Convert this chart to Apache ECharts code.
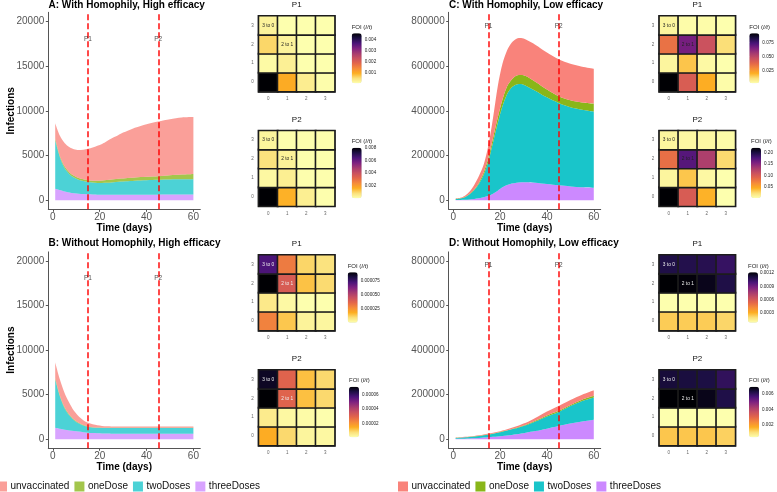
<!DOCTYPE html>
<html><head><meta charset="utf-8">
<style>html,body{margin:0;padding:0;background:#fff}#c{width:777px;height:492px}</style>
<script src="https://cdn.jsdelivr.net/npm/echarts@6/dist/echarts.min.js"></script>
</head><body><div id="c"></div>
<script>
const days = [1,3,5,7,9,11,13,15,17,19,21,23,25,27,29,31,35,40,45,50,55,60];
const layerNames = ['threeDoses','twoDoses','oneDose','unvaccinated'];
const legendOrder = ['unvaccinated','oneDose','twoDoses','threeDoses'];

const aThree = [1300,1150,1000,880,800,740,700,670,650,630,620,620,620,620,620,620,620,625,630,640,645,650];
const aTwo = [5400,3650,2600,2070,1750,1560,1450,1380,1330,1320,1330,1350,1380,1430,1480,1510,1580,1625,1670,1690,1705,1700];
const aOne = [200,150,200,200,200,200,200,200,220,250,270,310,330,330,330,350,360,390,400,470,530,600];
const aUnvac = [1700,2250,2600,2800,2950,3120,3300,3500,3700,3900,4080,4320,4570,4770,5020,5170,5540,5860,6100,6250,6370,6350];

const bThree = [1300,1180,1080,1000,930,870,800,740,700,680,660,650,640,630,625,620,620,620,620,620,620,620];
const bTwo = [5400,3620,2420,1700,1220,930,750,660,620,610,610,610,620,630,635,640,640,640,640,645,645,650];
const bOne = [150,120,100,90,80,70,60,50,40,30,30,30,30,30,30,30,30,30,30,30,30,30];
const bUnvac = [1750,1780,1600,1310,970,730,540,400,320,250,200,180,160,150,140,140,140,140,150,150,160,150];

const cThree = [1000,1500,2500,4000,6000,9000,14000,20000,30000,43000,58000,68000,75000,79000,81000,81000,79000,73000,67000,62000,58000,56000];
const cTwo = [4000,6500,11500,23000,40000,65000,101000,155000,230000,302000,362000,407000,430000,439000,439000,431000,411000,387000,368000,354000,347000,341000];
const cOne = [1000,1000,2000,3000,4000,6000,10000,15000,20000,25000,30000,35000,35000,40000,40000,43000,40000,35000,30000,31000,32000,35000];
const cUnvac = [2000,3000,5000,10000,20000,30000,35000,55000,90000,140000,160000,160000,165000,164000,165000,163000,165000,165000,165000,163000,160000,156000];

const dThree = [2000,2500,3200,4000,5000,6200,8000,10000,11500,13000,15500,17500,20000,23000,26500,30000,37000,48000,60000,71000,80000,88000];
const dTwo = [4000,5000,6000,7000,8000,9000,10500,12000,14000,16500,19000,22000,25000,27000,30500,33000,43000,55000,63000,78000,92000,100000];
const dOne = [500,500,500,500,600,700,800,1000,1200,1300,1400,1500,1700,2000,2200,2500,3000,4000,5000,5500,6000,7000];
const dUnvac = [1500,1600,1700,1800,2000,2200,2500,3000,3300,3700,4100,4700,5400,6300,7800,9000,13000,18000,22000,22000,22000,25000];

// heatmap cells, rows listed for y = 0,1,2,3; columns x = 0,1,2,3
const heatAP1 = [[0.0046,0.00100,0.00032,0.00009],[0.00014,0.00028,0.00005,0.00005],[0.0006,0.00023,0.00005,0.00005],[0.00023,0.00005,0.00005,0.00005]];
const heatAP2 = [[0.0080,0.00160,0.00048,0.00008],[0.00024,0.00048,0.00008,0.00008],[0.0008,0.0004,0.00008,0.00008],[0.00032,0.00008,0.00008,0.00008]];
const heatBP1 = [[0.0000297,0.0000144,0.0000045,0.0000036],[0.0000072,0.0000027,0.0000009,0.0000009],[0.00009,0.0000405,0.0000153,0.0000108],[0.000072,0.0000315,0.0000117,0.000009]];
const heatBP2 = [[0.0000149,0.0000085,0.0000028,0.0000021],[0.000005,0.0000021,0.0000014,0.0000007],[0.000071,0.0000298,0.0000121,0.0000085],[0.0000675,0.0000298,0.0000121,0.0000085]];
const heatCP1 = [[0.091,0.041,0.02,0.0027],[0.0046,0.0155,0.0036,0.0009],[0.0346,0.0655,0.0455,0.0109],[0.0046,0.0027,0.0027,0.0018]];
const heatCP2 = [[0.222,0.1,0.0444,0.0022],[0.0089,0.0355,0.0067,0.0022],[0.0844,0.173,0.129,0.0266],[0.0089,0.0067,0.0067,0.0044]];
const heatDP1 = [[0.000232,0.000232,0.000232,0.000207],[0.000037,0.000037,0.000037,0.000037],[0.00122,0.00121,0.00118,0.0011],[0.0011,0.00109,0.00108,0.00104]];
const heatDP2 = [[0.00139,0.00139,0.00139,0.00125],[0.00028,0.00021,0.00021,0.00021],[0.00694,0.00694,0.00673,0.00625],[0.0064,0.00635,0.0063,0.0060]];

const cellLabelA = '3 to 0';
const cellLabelB = '2 to 1';
const cellTicks = ['0','1','2','3'];
const xTicks = [0,20,40,60];
const lowTicks = [0,5000,10000,15000,20000];
const highTicks = [0,200000,400000,600000,800000];
const inferno = ['#FDFFAE','#FBE07A','#FDAE22','#F58A3A','#E3664A','#C85060','#A53A70','#7D2080','#4A1478','#1D0F45','#000004'];
const baseColors = {unvaccinated:[248,118,109],oneDose:[124,174,0],twoDoses:[0,191,196],threeDoses:[199,124,255]};
const FONT = '"Liberation Sans"';

const option = {animation:false,backgroundColor:'#fff',textStyle:{fontFamily:FONT},
  title:[],grid:[],xAxis:[],yAxis:[],series:[],visualMap:[],legend:[]};
const rgba=(n,a)=>`rgba(${baseColors[n].join(',')},${a})`;

function addTitle(text,left,top,size,weight,align,color){
  option.title.push({text,left,top,padding:0,textAlign:align||'left',
    textStyle:{fontFamily:FONT,fontSize:size,fontWeight:weight||'normal',color:color||'#000',
      rich:{i:{fontStyle:'italic',fontFamily:FONT,fontSize:size,color:color||'#000'}}}});
}

function addArea(p){
  const gi=option.grid.length;
  option.grid.push({left:p.left,width:152,top:p.top,height:p.height,containLabel:false});
  option.xAxis.push({type:'value',gridIndex:gi,min:-1.95,max:62.95,
    name:'Time (days)',nameLocation:'middle',nameGap:14,nameMoveOverlap:false,
    nameTextStyle:{fontFamily:FONT,fontSize:10,fontWeight:'bold',color:'#000'},
    splitLine:{show:false},axisLine:{onZero:false,lineStyle:{color:'#555',width:1}},
    axisTick:{length:2.5,lineStyle:{color:'#555'},customValues:xTicks},
    axisLabel:{fontFamily:FONT,fontSize:10,color:'#555',margin:3,customValues:xTicks,hideOverlap:false,formatter:v=>String(v)}});
  option.yAxis.push({type:'value',gridIndex:gi,min:p.ymin,max:p.ymax,
    name:p.ylab?'Infections':'',nameLocation:'middle',nameGap:32,nameMoveOverlap:false,
    nameTextStyle:{fontFamily:FONT,fontSize:10,fontWeight:'bold',color:'#000'},
    splitLine:{show:false},axisLine:{show:true,onZero:false,lineStyle:{color:'#555',width:1}},
    axisTick:{show:true,length:2.5,lineStyle:{color:'#555'},customValues:p.ticks},
    axisLabel:{fontFamily:FONT,fontSize:10,color:'#555',margin:4,customValues:p.ticks,hideOverlap:false,formatter:v=>String(v)}});
  layerNames.forEach((n,k)=>{
    const s={type:'line',name:n,xAxisIndex:gi,yAxisIndex:gi,stack:'t'+gi,smooth:0.3,
      encode:{x:1,y:0},
      showSymbol:false,symbol:'none',lineStyle:{width:0},silent:true,
      itemStyle:{color:rgba(n,p.alpha)},areaStyle:{color:rgba(n,p.alpha),opacity:1},
      data:days.map((d,i)=>[p.layers[k][i],d])};
    option.series.push(s);
  });
  option.series.push({type:'line',name:'periods',xAxisIndex:gi,yAxisIndex:gi,data:[],silent:true,showSymbol:false,
    markLine:{silent:true,symbol:'none',animation:false,label:{show:false},
      lineStyle:{color:'#FF0000',width:1.5,type:[6,3],opacity:.95},
      data:[{xAxis:15},{xAxis:45}]}});
  option.series.push({type:'scatter',name:'plabels',xAxisIndex:gi,yAxisIndex:gi,symbolSize:0,silent:true,z:6,
    data:[[15,p.ply,'P1'],[45,p.ply,'P2']],
    label:{show:true,position:'inside',formatter:o=>o.value[2],fontFamily:FONT,fontSize:6.5,color:'#222'}});
}

function addHeat(p){
  const gi=option.grid.length;
  option.grid.push({left:p.left,width:76,top:p.top,height:75.6,show:true,borderColor:'#1c1c1c',borderWidth:1.6,backgroundColor:'transparent'});
  const ax=(pos,extra)=>Object.assign({type:'category',gridIndex:gi,data:cellTicks,position:pos,
    axisLine:{show:false},axisTick:{show:false},splitLine:{show:false},
    axisLabel:{fontFamily:FONT,fontSize:4.5,color:'#666',margin:5}},extra);
  option.xAxis.push(ax('bottom'));
  option.yAxis.push(ax('left'));
  const cells=[];
  p.values.forEach((row,y)=>row.forEach((v,x)=>{
    const item={value:[x,y,v]};
    if(x===0&&y===3) item.cellText=cellLabelA;
    if(x===1&&y===2) item.cellText=cellLabelB;
    cells.push(item);
  }));
  const si=option.series.length;
  option.series.push({type:'heatmap',name:'foi',xAxisIndex:gi,yAxisIndex:gi,silent:true,
    itemStyle:{borderColor:'#1c1c1c',borderWidth:1.6},
    label:{show:true,fontFamily:FONT,fontSize:4.8,color:p.textColor,
      formatter:o=>cells[o.dataIndex].cellText||''},
    data:cells});
  option.visualMap.push({type:'continuous',seriesIndex:si,min:p.min,max:p.max,dimension:2,
    left:p.barLeft,top:p.barTop,itemWidth:10,itemHeight:p.barH,padding:0,calculable:false,
    showLabel:false,hoverLink:false,inRange:{color:inferno}});
  // axis that carries the colour bar's tick labels
  const bi=option.grid.length;
  option.grid.push({left:p.barLeft,width:10,top:p.barTop,height:p.barH});
  option.xAxis.push({type:'value',gridIndex:bi,show:false,min:0,max:1});
  option.yAxis.push({type:'value',gridIndex:bi,position:'right',min:p.min,max:p.max,z:8,
    splitLine:{show:false},axisLine:{show:false},
    axisTick:{show:true,inside:true,length:2,lineStyle:{color:'rgba(255,255,255,.7)',width:.5},customValues:p.barTicks},
    axisLabel:{fontFamily:FONT,fontSize:4.6,color:'#222',margin:3,customValues:p.barTicks,
      formatter:v=>p.barLabels[p.barTicks.indexOf(v)],hideOverlap:false}});
  addTitle(p.name,p.left+38,p.top-15,8,'normal','center','#111');
  addTitle('FOI ({i|I/t})',p.barLeft,p.barTop-9,6,'normal','left','#222');
}

const leftX=48.3,rightX=448.7,topY=12.3,botY=251.9,areaH=197;
addArea({left:leftX,top:topY,height:areaH,ymin:-1000,ymax:21000,ticks:lowTicks,ylab:true,alpha:.7,ply:18000,layers:[aThree,aTwo,aOne,aUnvac]});
addArea({left:leftX,top:botY,height:196.4,ymin:-1000,ymax:21000,ticks:lowTicks,ylab:true,alpha:.7,ply:18050,layers:[bThree,bTwo,bOne,bUnvac]});
addArea({left:rightX,top:topY,height:areaH,ymin:-40000,ymax:840000,ticks:highTicks,ylab:false,alpha:.9,ply:776000,layers:[cThree,cTwo,cOne,cUnvac]});
addArea({left:rightX,top:botY,height:196.4,ymin:-40000,ymax:840000,ticks:highTicks,ylab:false,alpha:.9,ply:780000,layers:[dThree,dTwo,dOne,dUnvac]});

const hL=258.7,hR=659.3;
addHeat({name:'P1',left:hL,top:16,values:heatAP1,textColor:'#222',min:0.00006,max:0.0046,barLeft:351.7,barTop:33.3,barH:50,barTicks:[0.001,0.002,0.003,0.004],barLabels:['0.001','0.002','0.003','0.004']});
addHeat({name:'P2',left:hL,top:130.7,values:heatAP2,textColor:'#222',min:0.00006,max:0.008,barLeft:351.7,barTop:147.7,barH:50.6,barTicks:[0.002,0.004,0.006,0.008],barLabels:['0.002','0.004','0.006','0.008']});
addHeat({name:'P1',left:hL,top:255,values:heatBP1,textColor:'#eee',min:0.000001,max:0.00009,barLeft:347.7,barTop:272.3,barH:50.4,barTicks:[0.000025,0.00005,0.000075],barLabels:['0.000025','0.000050','0.000075']});
addHeat({name:'P2',left:hL,top:370,values:heatBP2,textColor:'#eee',min:0.0000005,max:0.000071,barLeft:349,barTop:386.7,barH:50.6,barTicks:[0.00002,0.00004,0.00006],barLabels:['0.00002','0.00004','0.00006']});
addHeat({name:'P1',left:hR,top:16,values:heatCP1,textColor:'#222',min:0.0018,max:0.091,barLeft:749.3,barTop:33.3,barH:50,barTicks:[0.025,0.05,0.075],barLabels:['0.025','0.050','0.075']});
addHeat({name:'P2',left:hR,top:130.7,values:heatCP2,textColor:'#222',min:0.002,max:0.222,barLeft:751,barTop:147.7,barH:50.4,barTicks:[0.05,0.1,0.15,0.2],barLabels:['0.05','0.10','0.15','0.20']});
addHeat({name:'P1',left:hR,top:255,values:heatDP1,textColor:'#eee',min:0.00007,max:0.00122,barLeft:748,barTop:272.3,barH:50.4,barTicks:[0.0003,0.0006,0.0009,0.0012],barLabels:['0.0003','0.0006','0.0009','0.0012']});
addHeat({name:'P2',left:hR,top:370,values:heatDP2,textColor:'#eee',min:0.0004,max:0.00694,barLeft:749,barTop:386.7,barH:50.6,barTicks:[0.002,0.004,0.006],barLabels:['0.002','0.004','0.006']});

addTitle('A: With Homophily, High efficacy',48.5,0,10,'bold');
addTitle('B: Without Homophily, High efficacy',48.5,238,10,'bold');
addTitle('C: With Homophily, Low efficacy',449,0,10,'bold');
addTitle('D: Without Homophily, Low efficacy',449,238,10,'bold');

function addLegend(left,alpha){
  option.legend.push({left,top:481.5,padding:0,orient:'horizontal',itemWidth:10,itemHeight:10,itemGap:5,icon:'rect',selectedMode:false,
    textStyle:{fontFamily:FONT,fontSize:10,color:'#111',padding:[0,0,0,-1.5]},
    data:legendOrder.map(n=>({name:n,icon:'rect',itemStyle:{color:rgba(n,alpha),borderWidth:0}}))});
}
addLegend(-3,.7);
addLegend(398,.9);

const chart=echarts.init(document.getElementById('c'),null,{renderer:'canvas',width:777,height:492});
chart.setOption(option);
</script></body></html>
